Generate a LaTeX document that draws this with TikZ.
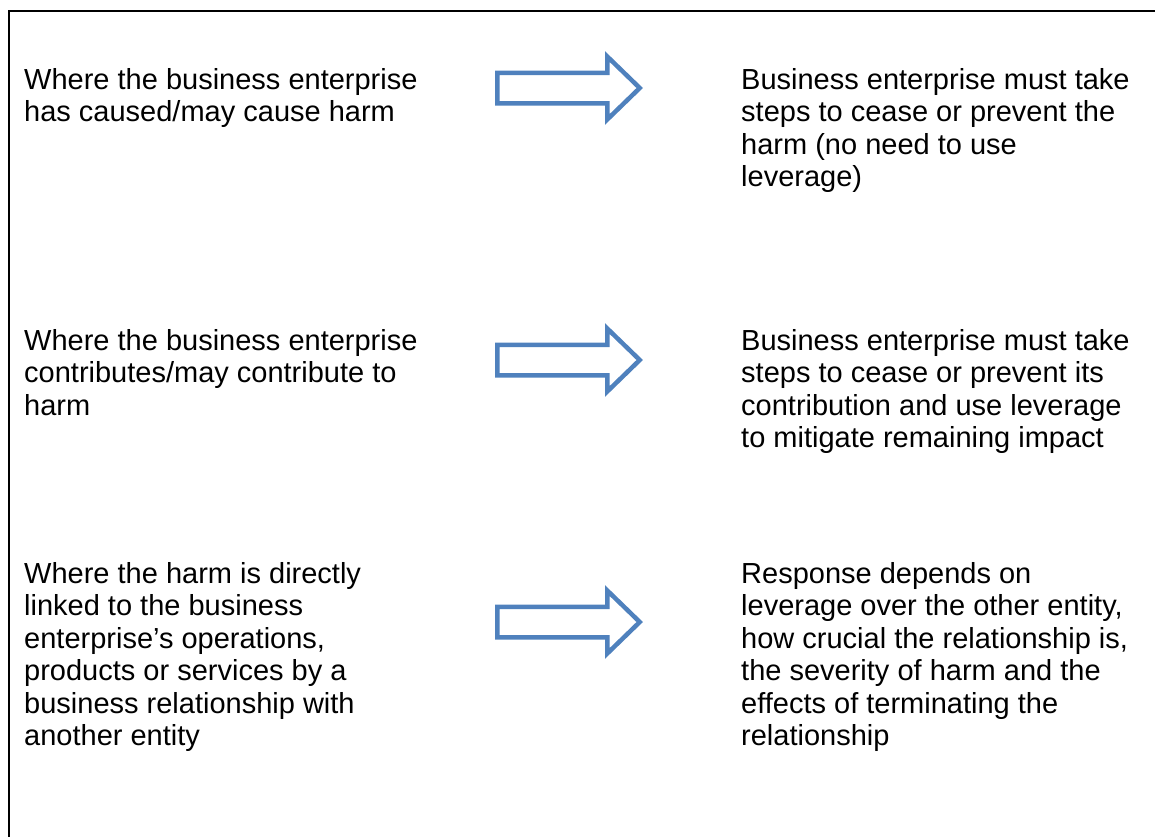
\documentclass[tikz,border=0pt]{standalone}
\usepackage{fontspec}
\setmainfont{Liberation Sans}
\definecolor{arrowblue}{HTML}{4F81BD}
\begin{document}
\begin{tikzpicture}[x=1pt,y=-1pt,
  txt/.style={anchor=base west,inner sep=0pt,font=\fontsize{29}{32.5}\selectfont},
  arrowline/.style={draw=arrowblue,fill=white,line width=4.5pt,line join=miter},
  bigarrow/.pic={\draw[arrowline] (0,-15.25) -- (110,-15.25) -- (110,-31.5) -- (142.5,0) -- (110,31.5) -- (110,15.25) -- (0,15.25) -- cycle;}]
\useasboundingbox (0,0) rectangle (1155,836);
\draw[line width=2pt] (1160,11) coordinate (tr) -- (8.5,11) coordinate (tl) -- (8.5,840) coordinate (bl);
% row 1
\node[txt] (l1) at (24,89) {\begin{tabular}[t]{@{}l@{}}Where the business enterprise\\has caused/may cause harm\end{tabular}};
\pic (a1) at (497.25,88) {bigarrow};
\node[txt] (r1) at (741,89) {\begin{tabular}[t]{@{}l@{}}Business enterprise must take\\steps to cease or prevent the\\harm (no need to use\\leverage)\end{tabular}};
% row 2
\node[txt] (l2) at (24,350) {\begin{tabular}[t]{@{}l@{}}Where the business enterprise\\contributes/may contribute to\\harm\end{tabular}};
\pic (a2) at (497.25,360) {bigarrow};
\node[txt] (r2) at (741,350) {\begin{tabular}[t]{@{}l@{}}Business enterprise must take\\steps to cease or prevent its\\contribution and use leverage\\to mitigate remaining impact\end{tabular}};
% row 3
\node[txt] (l3) at (24,583) {\begin{tabular}[t]{@{}l@{}}Where the harm is directly\\linked to the business\\enterprise’s operations,\\products or services by a\\business relationship with\\another entity\end{tabular}};
\pic (a3) at (497.25,622) {bigarrow};
\node[txt] (r3) at (741,583) {\begin{tabular}[t]{@{}l@{}}Response depends on\\leverage over the other entity,\\how crucial the relationship is,\\the severity of harm and the\\effects of terminating the\\relationship\end{tabular}};
\end{tikzpicture}
\end{document}
